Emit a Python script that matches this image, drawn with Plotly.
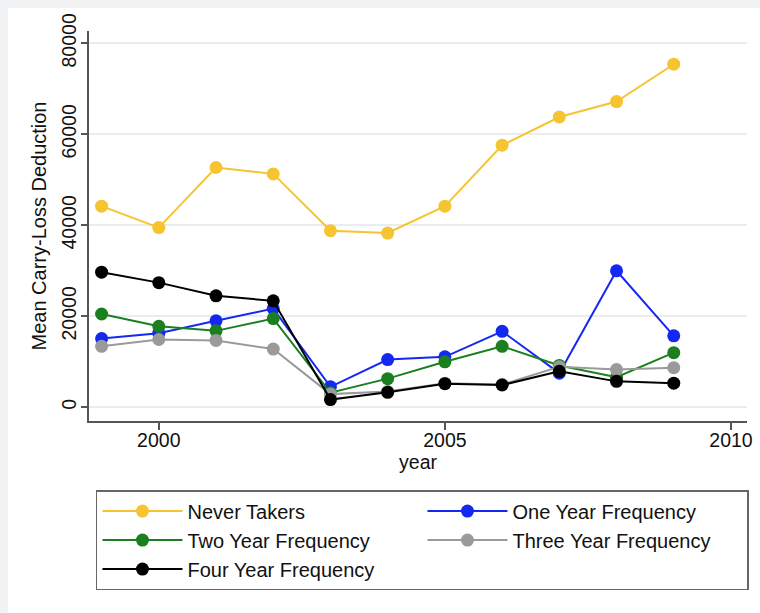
import plotly.graph_objects as go

years = [1999, 2000, 2001, 2002, 2003, 2004, 2005, 2006, 2007, 2008, 2009]

never_takers = [44200, 39500, 52700, 51300, 38800, 38300, 44200, 57600, 63800, 67200, 75400]
one_year = [15100, 16300, 19000, 21700, 4500, 10500, 11100, 16700, 7500, 30000, 15700]
two_year = [20500, 17800, 16800, 19500, 3200, 6300, 10000, 13400, 9200, 6600, 12000]
three_year = [13400, 14900, 14700, 12800, 2900, 3500, 5300, 5000, 8900, 8300, 8700]
four_year = [29700, 27400, 24500, 23400, 1700, 3300, 5200, 4900, 7900, 5700, 5300]

series = [
    ("Never Takers", never_takers, "#f6c431"),
    ("One Year Frequency", one_year, "#1428f2"),
    ("Two Year Frequency", two_year, "#1b7f1f"),
    ("Three Year Frequency", three_year, "#9a9a9a"),
    ("Four Year Frequency", four_year, "#000000"),
]

x_ticks = [2000, 2005, 2010]
y_ticks = [0, 20000, 40000, 60000, 80000]
y_tick_labels = ["0", "20000", "40000", "60000", "80000"]

FONT = "Liberation Sans, Arial, Helvetica, sans-serif"

fig = go.Figure()
for name, vals, color in series:
    fig.add_trace(go.Scatter(
        x=years, y=vals, name=name, mode="lines+markers",
        line=dict(color=color, width=2),
        marker=dict(color=color, size=13),
    ))

# white graph region inside a faint grey frame (top and left edges)
fig.add_shape(type="rect", xref="paper", yref="paper",
              x0=-0.123, x1=2, y0=-2, y1=1.059,
              fillcolor="white", line=dict(width=0), layer="below")

fig.update_layout(
    width=760, height=613,
    margin=dict(l=89, r=13, t=31, b=192, autoexpand=False),
    paper_bgcolor="#f1f2f3",
    plot_bgcolor="rgba(0,0,0,0)",
    font=dict(family=FONT, size=19, color="#111"),
    showlegend=True,
    legend=dict(
        orientation="h",
        x=0.0106, xanchor="left",
        y=-0.177, yanchor="top",
        entrywidth=230, entrywidthmode="pixels",
        itemwidth=80,
        bordercolor="#666", borderwidth=1.5,
        bgcolor="white",
        font=dict(family=FONT, size=20, color="#111"),
        traceorder="normal",
    ),
    xaxis=dict(
        range=[1998.78, 2010.28],
        tickvals=x_ticks,
        showgrid=False, zeroline=False,
        showline=True, linecolor="#555", linewidth=1.5,
        ticks="outside", ticklen=7, tickcolor="#555", tickwidth=1.5,
        ticklabelstandoff=-6,
        tickfont=dict(size=19.5),
        title=dict(text="year", font=dict(size=19.5), standoff=5),
    ),
    yaxis=dict(
        range=[-3010, 82700],
        tickvals=y_ticks,
        ticktext=y_tick_labels,
        tickangle=-90,
        showgrid=True, gridcolor="#e9edef", gridwidth=1.5,
        zeroline=False,
        showline=True, linecolor="#555", linewidth=1.5,
        ticks="outside", ticklen=6, tickcolor="#555", tickwidth=1.5,
        ticklabelstandoff=-3,
        tickfont=dict(size=19.5),
        title=dict(text="Mean Carry-Loss Deduction", font=dict(size=20), standoff=6),
    ),
)

fig.write_html("out.html")
